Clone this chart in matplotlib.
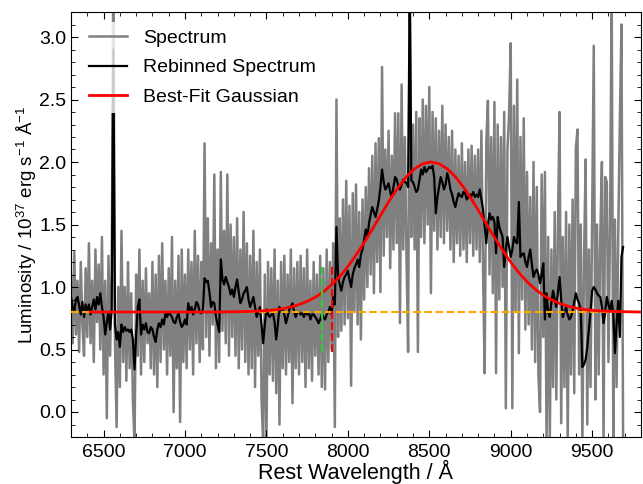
import matplotlib
matplotlib.use("Agg")
import matplotlib.pyplot as plt
import numpy as np
from matplotlib.ticker import MultipleLocator

plt.rcParams['font.family'] = ['Liberation Sans', 'DejaVu Sans']
plt.rcParams['mathtext.default'] = 'regular'

# wavelength grid of the spectrum (10 A steps, 6300-9690 A)
wave = np.arange(6300, 9700, 10)

# observed spectrum, one row per 100 A
spec = [
    1.10, 0.55, 1.28, 0.62, 1.05, 0.48, 1.20, 0.70, 0.45, 1.15,
    0.60, 1.35, 0.55, 1.05, 0.40, 1.30, 0.72, 1.18, 0.50, 1.40,
    0.30, 1.05, -0.05, 1.25, 0.45, 1.10, 3.60, 0.55, -0.12, 1.00,
    0.20, 1.45, 0.40, 1.00, 0.25, 1.20, 0.35, 0.95, 0.10, -0.25,
    1.10, 0.45, 1.30, 0.30, 1.05, 0.40, 1.15, 0.55, 0.95, 0.35,
    1.20, 0.30, 1.10, 0.20, 1.25, 0.40, 1.35, 0.50, 1.05, 0.30,
    1.15, 0.45, 1.40, 0.00, 1.05, 0.35, 1.25, -0.08, 1.30, 0.40,
    1.10, 0.35, 1.30, 0.50, 1.20, 0.30, 1.45, 0.55, 1.25, 0.40,
    1.20, 0.50, 2.15, 0.60, 1.55, 0.45, 1.35, 0.70, 1.90, 0.35,
    1.30, 0.40, 1.92, 0.65, 1.45, 0.55, 1.90, 0.45, 1.50, 0.60,
    1.40, 0.45, 1.55, 0.35, 1.30, 0.50, 1.60, 0.40, 1.35, 0.30,
    1.25, 0.35, 1.45, 0.20, 1.20, 0.45, 1.30, 0.10, -0.25, 1.10,
    -0.25, 1.20, 0.30, 1.15, 0.25, 1.30, 0.15, 1.05, -0.10, 1.20,
    0.35, 1.25, 0.30, 1.10, 0.40, 1.30, 0.07, 1.15, 0.35, 1.20,
    0.30, 1.25, 0.40, 1.15, 0.20, 1.30, 0.35, 1.05, 0.25, 1.20,
    0.45, 1.10, 0.30, 1.25, 0.20, 1.15, 0.18, 1.30, 0.40, 1.20,
    0.50, 1.35, -0.12, 2.50, 0.60, 1.55, 0.65, 1.70, 0.70, 1.85,
    0.75, 1.65, 0.21, 1.75, 0.80, 1.82, 0.70, 1.60, 0.58, 1.70,
    0.90, 1.80, 1.00, 1.95, 1.10, 2.05, 0.95, 2.15, 1.20, 2.19,
    0.96, 2.76, 1.25, 2.10, 1.40, 2.25, 1.15, 2.05, 1.30, 2.39,
    1.35, 2.39, 0.71, 2.62, 1.30, 2.20, 1.25, 0.48, 3.60, 1.40,
    2.30, 1.30, 2.40, 0.48, 2.35, 1.40, 2.50, 1.35, 2.45, 1.50,
    2.60, 0.95, 2.40, 1.45, 2.35, 1.30, 2.25, 1.40, 2.45, 1.35,
    2.30, 1.45, 2.20, 1.30, 2.25, 1.20, 2.10, 1.35, 2.05, 1.25,
    2.15, 1.30, 2.00, 1.20, 2.10, 1.35, 2.13, 1.25, 2.05, 1.30,
    2.10, 1.20, 2.25, 1.15, 0.31, 2.15, 2.49, 1.10, 2.20, 0.95,
    2.48, 0.31, 2.30, 0.90, 2.20, 1.00, 2.40, 0.03, 2.10, 2.38,
    2.95, 0.03, 2.45, 0.80, 2.66, 0.47, 2.20, 0.90, 2.35, 0.66,
    1.92, 0.70, 1.72, 0.50, 2.00, 0.40, 1.80, 0.30, 0.00, 1.90,
    0.60, 1.92, -0.25, 1.40, -0.25, 1.30, 0.20, 1.60, 0.10, 1.50,
    2.40, -0.09, 1.40, 0.20, 1.60, -0.25, 1.50, 0.30, 1.70, 0.15,
    2.11, 2.26, 0.30, 1.50, -0.25, 1.20, 2.02, -0.10, 1.30, 0.20,
    1.60, 2.93, 0.10, 1.50, 0.30, 1.40, 2.00, -0.25, 1.88, 1.84,
    0.40, 1.50, 3.40, -0.25, 1.54, 0.20, 1.40, 2.32, 3.10, -0.20,
]

# rebinned spectrum on the same grid
rebinned = [
    0.92, 0.84, 0.80, 0.90, 0.92, 0.85, 0.78, 0.88, 0.76, 0.86,
    0.80, 0.86, 0.78, 0.84, 0.90, 0.82, 0.92, 0.86, 0.95, 0.84,
    0.76, 0.62, 0.72, 0.80, 0.66, 0.82, 2.90, 0.70, 0.58, 0.64,
    0.52, 0.70, 0.64, 0.68, 0.65, 0.66, 0.64, 0.66, 0.58, 0.34,
    0.62, 0.84, 0.90, 0.62, 0.70, 0.66, 0.71, 0.64, 0.63, 0.68,
    0.66, 0.60, 0.56, 0.66, 0.71, 0.68, 0.74, 0.70, 0.79, 0.76,
    0.80, 0.78, 0.76, 0.72, 0.71, 0.76, 0.79, 0.72, 0.68, 0.70,
    0.74, 0.70, 0.87, 0.80, 0.84, 0.78, 0.82, 0.88, 0.86, 0.80,
    0.79, 0.82, 1.07, 1.04, 1.05, 0.96, 0.84, 0.88, 0.87, 0.76,
    0.70, 0.64, 1.22, 1.06, 1.02, 1.08, 1.04, 1.00, 0.94, 0.98,
    0.92, 1.00, 1.06, 0.96, 0.87, 0.90, 0.95, 0.97, 1.00, 0.90,
    0.84, 0.88, 0.92, 0.84, 0.76, 0.80, 0.84, 0.70, 0.55, 0.70,
    0.82, 0.78, 0.76, 0.78, 0.79, 0.72, 0.58, 0.70, 0.84, 0.80,
    0.82, 0.78, 0.71, 0.76, 0.82, 0.84, 0.87, 0.80, 0.76, 0.80,
    0.80, 0.78, 0.79, 0.76, 0.80, 0.78, 0.80, 0.74, 0.78, 0.78,
    0.76, 0.74, 0.71, 0.74, 0.78, 0.76, 0.74, 0.78, 0.80, 0.84,
    0.78, 0.92, 0.86, 1.48, 1.08, 1.02, 0.97, 1.04, 1.08, 1.10,
    1.13, 1.06, 1.00, 1.10, 1.15, 1.18, 1.22, 1.16, 1.26, 1.30,
    1.38, 1.46, 1.40, 1.51, 1.58, 1.64, 1.60, 1.56, 1.62, 1.69,
    1.80, 1.94, 1.84, 1.78, 1.80, 1.83, 1.76, 1.72, 1.80, 1.88,
    1.86, 1.80, 1.78, 1.82, 1.86, 1.84, 1.83, 1.80, 3.40, 1.85,
    1.84, 1.80, 1.76, 1.78, 1.86, 1.94, 1.90, 1.96, 1.92, 1.94,
    1.96, 1.95, 1.97, 1.88, 1.59, 1.72, 1.80, 1.88, 1.84, 1.78,
    1.82, 1.91, 1.86, 1.78, 1.74, 1.68, 1.64, 1.70, 1.75, 1.73,
    1.72, 1.76, 1.75, 1.70, 1.72, 1.74, 1.73, 1.76, 1.72, 1.74,
    1.72, 1.78, 1.70, 1.62, 1.48, 1.35, 1.50, 1.59, 1.54, 1.56,
    1.52, 1.27, 1.56, 1.48, 1.44, 1.40, 1.16, 1.30, 1.40, 1.32,
    1.24, 1.30, 1.40, 1.36, 1.35, 1.68, 1.24, 1.26, 1.27, 1.20,
    1.16, 1.24, 1.30, 1.18, 1.08, 1.12, 1.14, 1.10, 1.03, 1.10,
    1.19, 0.74, 0.95, 0.80, 0.76, 0.88, 0.97, 0.90, 0.84, 0.96,
    1.08, 0.90, 0.76, 0.80, 0.84, 0.78, 0.74, 0.76, 0.81, 0.88,
    0.95, 0.90, 0.87, 0.82, 0.36, 0.38, 0.42, 0.52, 0.66, 0.80,
    0.97, 1.00, 0.98, 0.95, 0.93, 0.92, 0.84, 0.71, 0.80, 0.92,
    0.86, 0.81, 0.89, 0.78, 0.47, 0.70, 0.89, 0.60, 1.24, 1.32,
]

# best-fit gaussian
fit_wave = [6420, 7210, 7310, 7410, 7510, 7560, 7610, 7660, 7710, 7760,
            7810, 7860, 7910, 7960, 8010, 8060, 8110, 8160, 8210, 8260,
            8310, 8360, 8410, 8460, 8510, 8560, 8610, 8660, 8710, 8760,
            8810, 8860, 8910, 8960, 9010, 9060, 9110, 9160, 9210, 9260,
            9310, 9360, 9410, 9460, 9510, 9610, 9710, 9800]
fit_lum = [0.800, 0.800, 0.802, 0.805, 0.812, 0.819, 0.829, 0.844, 0.864, 0.891,
           0.926, 0.972, 1.030, 1.099, 1.181, 1.274, 1.376, 1.484, 1.594, 1.701,
           1.799, 1.882, 1.946, 1.986, 2.000, 1.986, 1.946, 1.882, 1.799, 1.701,
           1.594, 1.484, 1.376, 1.274, 1.181, 1.099, 1.030, 0.972, 0.926, 0.891,
           0.864, 0.844, 0.829, 0.819, 0.812, 0.805, 0.802, 0.800]

continuum = 0.8
green_x, red_x = 7842, 7903
marker_lo, marker_hi = 0.48, 1.17

fig = plt.figure(figsize=(6.43, 4.84), dpi=100)
ax = fig.add_axes([71/643, 1 - 437/484, 570/643, 425/484])

ax.plot(wave, spec, color='gray', lw=1.8, label='Spectrum', zorder=1)
ax.plot(wave, rebinned, color='black', lw=1.6, label='Rebinned Spectrum', zorder=2)
ax.axhline(continuum, color='orange', ls='--', lw=1.5, zorder=3)
ax.plot(fit_wave, fit_lum, color='red', lw=2, label='Best-Fit Gaussian', zorder=4)
ax.vlines(green_x, marker_lo, marker_hi, color='limegreen', ls='--', lw=1.5, zorder=5)
ax.vlines(red_x, marker_lo, marker_hi, color='red', ls='--', lw=1.5, zorder=5)

ax.set_xlim(6300, 9800)
ax.set_ylim(-0.2, 3.2)
ax.xaxis.set_major_locator(MultipleLocator(500))
ax.xaxis.set_minor_locator(MultipleLocator(100))
ax.yaxis.set_major_locator(MultipleLocator(0.5))
ax.yaxis.set_minor_locator(MultipleLocator(0.1))
ax.tick_params(which='both', direction='in', top=True, right=True, labelsize=14)
ax.tick_params(which='major', length=5)
ax.tick_params(which='minor', length=3)
ax.tick_params(axis='x', which='both', pad=5)

ax.set_xlabel('Rest Wavelength / Å', fontsize=15.5, labelpad=-1)
ax.set_ylabel(r'Luminosity / 10$^{37}$ erg s$^{-1}$ Å$^{-1}$', fontsize=13.5, labelpad=0)

leg = ax.legend(loc='upper left', fontsize=14, frameon=True, labelspacing=0.6)
leg.get_frame().set_edgecolor('none')

fig.savefig('out.png', dpi=100)
